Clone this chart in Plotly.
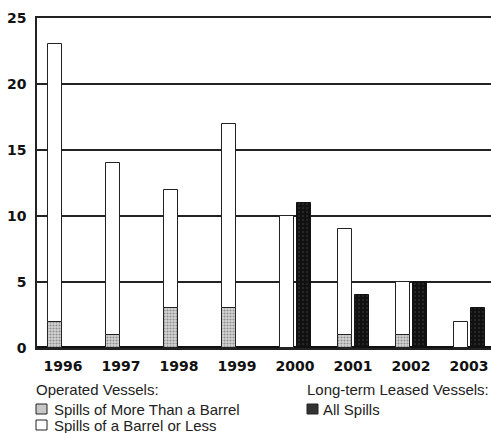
import plotly.graph_objects as go

years = ["1996", "1997", "1998", "1999", "2000", "2001", "2002", "2003"]
# Operated vessels, stacked: spills of more than a barrel (bottom) + spills of a barrel or less (top)
op_more_than_barrel = [2, 1, 3, 3, 0, 1, 1, 0]
op_barrel_or_less = [21, 13, 9, 14, 10, 8, 4, 2]
# Long-term leased vessels, all spills
leased_all = [0, 0, 0, 0, 11, 4, 5, 3]

W, H = 491, 433
L, T, B = 37, 18, 85
PW, PH = W - L, H - T - B


def px(x):
    return (x - L) / PW


def py(y):
    return (H - B - y) / PH


fig = go.Figure()

fig.add_trace(go.Bar(
    x=years, y=op_more_than_barrel, offset=-0.259, width=0.241,
    marker=dict(color="#d0d0d0", line=dict(color="#222", width=1),
                pattern=dict(shape=".", fgcolor="#444", bgcolor="#d6d6d6", size=3, solidity=0.4)),
    showlegend=False,
))
fig.add_trace(go.Bar(
    x=years, y=op_barrel_or_less, base=op_more_than_barrel, offset=-0.259, width=0.241,
    marker=dict(color="white", line=dict(color="#222", width=1)),
    showlegend=False,
))
fig.add_trace(go.Bar(
    x=years, y=leased_all, offset=0.034, width=0.241,
    marker=dict(color="#111", line=dict(color="#111", width=1),
                pattern=dict(shape=".", fgcolor="#777", bgcolor="#111", size=4, solidity=0.12)),
    showlegend=False,
))

font_legend = dict(family="Liberation Sans", size=15, color="#222")

annotations = []
shapes = []


def add_text(text, x, y):
    annotations.append(dict(text=text, x=px(x), y=py(y), xref="paper", yref="paper",
                            xanchor="left", yanchor="middle", showarrow=False, font=font_legend))


def add_box(x0, y0, x1, y1, fill):
    shapes.append(dict(type="rect", xref="paper", yref="paper",
                       x0=px(x0), x1=px(x1), y0=py(y1), y1=py(y0),
                       fillcolor=fill, line=dict(color="#222", width=1)))


add_text("Operated Vessels:", 34, 389)
add_box(36, 404, 47, 414, "#c8c8c8")
add_text("Spills of More Than a Barrel", 52, 409)
add_box(36, 420, 47, 430, "white")
add_text("Spills of a Barrel or Less", 52, 425)
add_text("Long-term Leased Vessels:", 305, 389)
add_box(307, 404, 318, 414, "#333")
add_text("All Spills", 321, 409)

fig.update_layout(
    width=W, height=H,
    margin=dict(l=L, r=0, t=T, b=B),
    paper_bgcolor="white", plot_bgcolor="white",
    barmode="overlay",
    bargap=0,
    annotations=annotations,
    shapes=shapes,
    xaxis=dict(
        type="category", range=[-0.448, 7.38],
        showgrid=False, zeroline=False,
        showline=True, mirror=True, linecolor="#222", linewidth=1.5,
        tickfont=dict(family="DejaVu Sans", size=14, color="#111", weight="bold"),
        ticks="", ticklabelstandoff=4,
    ),
    yaxis=dict(
        range=[0, 25], tickvals=[0, 5, 10, 15, 20, 25],
        showgrid=True, gridcolor="#222", gridwidth=1.5,
        showline=True, linecolor="#222", linewidth=1.5,
        zeroline=True, zerolinecolor="#111", zerolinewidth=4,
        tickfont=dict(family="DejaVu Sans", size=14, color="#111", weight="bold"),
        ticks="", ticklabelstandoff=6,
    ),
)

fig.write_html("out.html")
